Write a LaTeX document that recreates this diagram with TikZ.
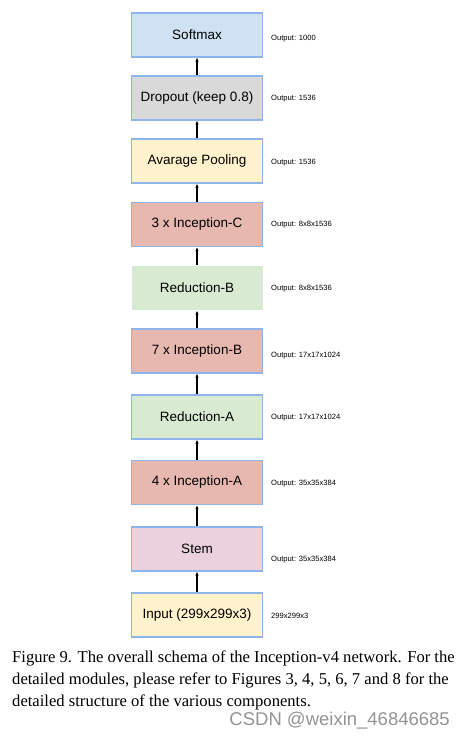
\documentclass[tikz,border=0pt]{standalone}
\usepackage{fontspec}
\setmainfont{Liberation Serif}
\setsansfont{Liberation Sans}
\usetikzlibrary{arrows.meta}
\definecolor{edgeblue}{HTML}{8FB4EE}
\definecolor{fillblue}{HTML}{CFE2F3}
\definecolor{fillgray}{HTML}{D9D9D9}
\definecolor{fillyellow}{HTML}{FFF2CC}
\definecolor{fillred}{HTML}{E6B8AF}
\definecolor{fillgreen}{HTML}{D9EAD3}
\definecolor{fillpink}{HTML}{EAD1DC}
\tikzset{
  layer/.style={draw=edgeblue, line width=1.2pt, minimum width=131pt, minimum height=44pt,
    inner sep=0pt, font=\sffamily\fontsize{13.5}{15}\selectfont},
  outlabel/.style={anchor=west, inner sep=0pt, font=\sffamily\fontsize{7.6}{8}\selectfont},
  flow/.style={-{Latex[length=4pt,width=3.5pt]}, line width=1.1pt},
  capline/.style={anchor=base west, inner sep=0pt, font=\fontsize{16.6}{18}\selectfont}
}
\begin{document}
\begin{tikzpicture}[x=1pt, y=-1pt]
\useasboundingbox (0,0) rectangle (467,739);
% the layers, top to bottom
\node[layer, fill=fillblue] (softmax) at (197,35) {Softmax};
\node[layer, fill=fillgray] (dropout) at (197,98) {Dropout (keep 0.8)};
\node[layer, fill=fillyellow] (avgpool) at (197,161) {Avarage Pooling};
\node[layer, fill=fillred] (incc) at (197,224.5) {3 x Inception-C};
\node[layer, fill=fillgreen, draw=none] (redb) at (197,288) {Reduction-B};
\node[layer, fill=fillred] (incb) at (197,351) {7 x Inception-B};
\node[layer, fill=fillgreen] (reda) at (197,417) {Reduction-A};
\node[layer, fill=fillred] (inca) at (197,482.5) {4 x Inception-A};
\node[layer, fill=fillpink] (stem) at (197,549) {Stem};
\node[layer, fill=fillyellow] (input) at (197,615) {Input (299x299x3)};
% output sizes
\node[outlabel] (osoftmax) at (271,39) {Output: 1000};
\node[outlabel] (odropout) at (271,99) {Output: 1536};
\node[outlabel] (oavgpool) at (271,163) {Output: 1536};
\node[outlabel] (oincc) at (271,225) {Output: 8x8x1536};
\node[outlabel] (oredb) at (271,289) {Output: 8x8x1536};
\node[outlabel] (oincb) at (271,356) {Output: 17x17x1024};
\node[outlabel] (oreda) at (271,418) {Output: 17x17x1024};
\node[outlabel] (oinca) at (271,484) {Output: 35x35x384};
\node[outlabel] (ostem) at (271,560) {Output: 35x35x384};
\node[outlabel] (oinput) at (271,616) {299x299x3};
% connections
\draw[flow] (input) -- (stem);
\draw[flow] (stem) -- (inca);
\draw[flow] (inca) -- (reda);
\draw[flow] (reda) -- (incb);
\draw[flow] (incb) -- (redb);
\draw[flow] (redb) -- (incc);
\draw[flow] (incc) -- (avgpool);
\draw[flow] (avgpool) -- (dropout);
\draw[flow] (dropout) -- (softmax);
% caption
\node[capline] (cap1) at (12,662) {Figure 9. The overall schema of the Inception-v4 network. For the};
\node[capline] (cap2) at (12,684) {detailed modules, please refer to Figures 3, 4, 5, 6, 7 and 8 for the};
\node[capline] (cap3) at (12,706) {detailed structure of the various components.};
\node[anchor=base east, inner sep=0pt, text=black!42, font=\sffamily\fontsize{18.5}{20}\selectfont] (mark) at (450,725) {CSDN @weixin\_46846685};
\end{tikzpicture}
\end{document}
